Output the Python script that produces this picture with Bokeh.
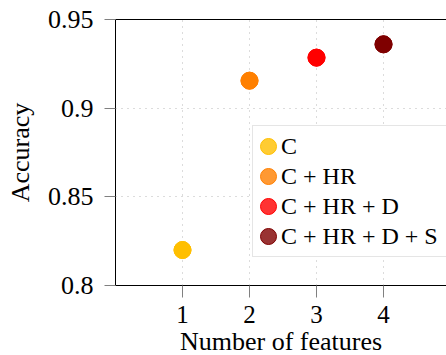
from bokeh.plotting import figure
from bokeh.models import Range1d, FixedTicker, LinearAxis, Legend, LegendItem, Title
from bokeh.embed import file_html
from bokeh.resources import INLINE

# ---- data ----
series_labels = ["C", "C + HR", "C + HR + D", "C + HR + D + S"]
num_features = [1, 2, 3, 4]
accuracy = [0.820, 0.9155, 0.9285, 0.936]
colors = ["#FFBF00", "#FF8000", "#FF0000", "#7F0000"]
x_ticks = [1, 2, 3, 4]
y_ticks = [0.8, 0.85, 0.9, 0.95]
y_tick_labels = ["0.8", "0.85", "0.9", "0.95"]
x_title = "Number of features"
y_title = "Accuracy"

FONT = "Liberation Serif"

p = figure(width=446, height=355, output_backend="svg", toolbar_location=None,
           x_range=Range1d(0, 4.94), y_range=Range1d(0.8, 0.95),
           min_border_left=115, min_border_top=19, min_border_bottom=70,
           min_border_right=0, y_axis_label=y_title)
p.outline_line_color = None
p.background_fill_color = "white"
p.border_fill_color = "white"

# axes styling
for ax in (p.xaxis[0], p.yaxis[0]):
    ax.axis_line_color = "black"
    ax.axis_line_width = 1
    ax.major_tick_line_color = "#808080"
    ax.minor_tick_line_color = None
    ax.major_tick_in = 0
    ax.major_label_text_font = FONT
    ax.major_label_text_font_size = "26px"
    ax.major_label_text_color = "black"
    ax.axis_label_text_font = FONT
    ax.axis_label_text_font_size = "26px"
    ax.axis_label_text_font_style = "normal"
    ax.axis_label_text_color = "black"

p.xaxis[0].ticker = FixedTicker(ticks=x_ticks)
p.xaxis[0].major_tick_out = 12
p.xaxis[0].major_label_text_font_size = "25px"
p.xaxis[0].major_label_standoff = 8

p.yaxis[0].ticker = FixedTicker(ticks=y_ticks)
p.yaxis[0].major_label_overrides = {t: l for t, l in zip(y_ticks, y_tick_labels)}
p.yaxis[0].major_tick_out = 11
p.yaxis[0].major_label_standoff = 11
p.yaxis[0].axis_label_standoff = 10

top_axis = LinearAxis(ticker=FixedTicker(ticks=[]), axis_line_color="black",
                      major_tick_line_color=None, minor_tick_line_color=None,
                      major_label_text_font_size="0px")
p.add_layout(top_axis, "above")

# x-axis title, stacked under the x axis
xt = Title(text=x_title, align="center", vertical_align="bottom",
           text_font=FONT, text_font_size="26px", text_font_style="normal",
           text_color="black", standoff=-2)
p.add_layout(xt, "below")

# grid
p.xgrid.ticker = FixedTicker(ticks=x_ticks)
p.ygrid.ticker = FixedTicker(ticks=y_ticks)
for g in (p.xgrid[0], p.ygrid[0]):
    g.grid_line_color = "#b8b8b8"
    g.grid_line_dash = "1 5"
    g.grid_line_width = 1

# points (circles of fixed screen size) and legend items
items = []
for lab, xv, yv, col in zip(series_labels, num_features, accuracy, colors):
    p.ellipse(x=[xv], y=[yv], width=17, height=17, width_units="screen",
              height_units="screen", fill_color=col, line_color=col)
    leg_r = p.ellipse(x=[xv], y=[yv], width=17, height=17, width_units="screen",
                      height_units="screen", fill_color=col, fill_alpha=0.8,
                      line_color=col, line_width=1)
    items.append(LegendItem(label=lab, renderers=[leg_r]))

legend = Legend(items=items, location=(137, 28))
legend.label_text_font = FONT
legend.label_text_font_size = "24px"
legend.label_text_color = "black"
legend.glyph_width = 20
legend.glyph_height = 30
legend.label_height = 30
legend.spacing = 0
legend.padding = 5
legend.label_standoff = 3
legend.label_width = 200
legend.border_line_color = "#cccccc"
legend.border_line_width = 1
legend.background_fill_color = "white"
legend.background_fill_alpha = 1
legend.margin = 0
p.add_layout(legend, "center")

open("out.html", "w").write(file_html(p, INLINE))
